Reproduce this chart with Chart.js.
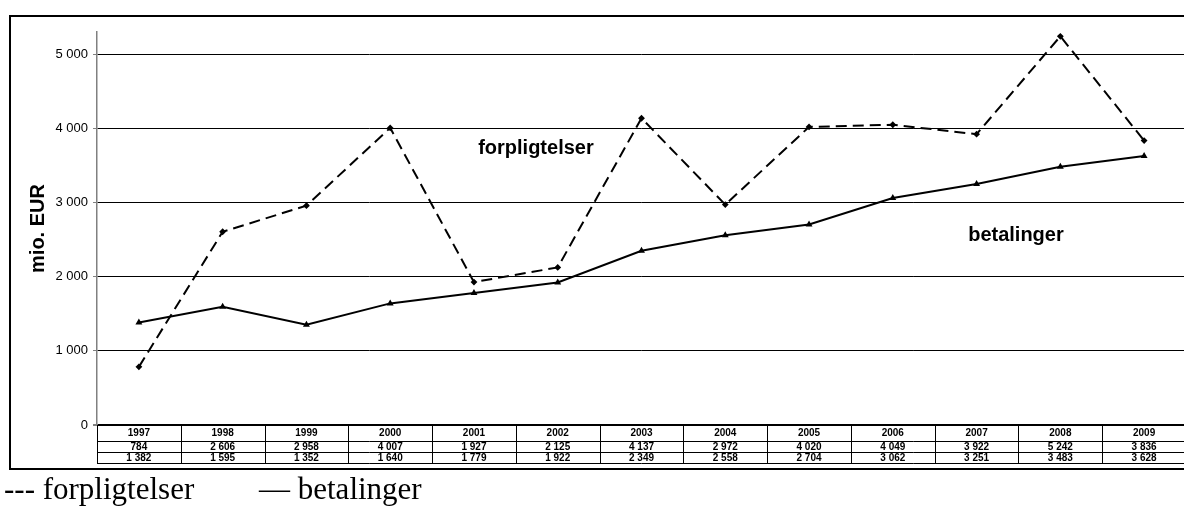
<!DOCTYPE html>
<html>
<head>
<meta charset="utf-8">
<script src="https://cdn.jsdelivr.net/npm/chart.js@4.4.1/dist/chart.umd.min.js"></script>
<style>
  html, body { margin: 0; padding: 0; background: #fff; overflow: hidden; width: 1184px; height: 510px; }
  #wrap { position: relative; width: 1184px; height: 510px; }
  canvas { position: absolute; left: 0; top: 0; }
  .leg { position: absolute; top: 471px; font-family: "Liberation Serif", "Times New Roman", serif; font-size: 31px; line-height: 36px; color: #000; white-space: nowrap; }
</style>
</head>
<body>
<div id="wrap">
  <canvas id="chart" width="1192" height="510"></canvas>
  <div class="leg" style="left:4px">--- forpligtelser</div>
  <div class="leg" style="left:259px">— betalinger</div>
</div>
<script>
const years = ["1997", "1998", "1999", "2000", "2001", "2002", "2003", "2004", "2005", "2006", "2007", "2008", "2009"];
const forpligtelser = [784, 2606, 2958, 4007, 1927, 2125, 4137, 2972, 4020, 4049, 3922, 5242, 3836];
const betalinger = [1382, 1595, 1352, 1640, 1779, 1922, 2349, 2558, 2704, 3062, 3251, 3483, 3628];
const yTicks = [0, 1000, 2000, 3000, 4000, 5000];

const fmt = (v) => String(v).replace(/\B(?=(\d{3})+(?!\d))/g, " ");

// table under the plot + outer frame + in-chart labels
const tablePlugin = {
  id: "tablePlugin",
  afterDraw(chart) {
    const c = chart.ctx;
    const x = chart.scales.x;
    const y = chart.scales.y;
    const area = chart.chartArea;
    const top = area.bottom;
    const step = x.getPixelForValue(1) - x.getPixelForValue(0);
    const rows = [top + 16, top + 27, top + 38];

    c.save();
    c.strokeStyle = "#000";
    c.lineWidth = 1;
    c.beginPath();
    for (const r of rows) {
      c.moveTo(area.left, r + 0.5);
      c.lineTo(area.right, r + 0.5);
    }
    for (let i = 0; i <= years.length; i++) {
      const px = Math.round(x.getPixelForValue(i) - step / 2) + 0.5;
      c.moveTo(px, top);
      c.lineTo(px, rows[2]);
    }
    c.stroke();

    c.fillStyle = "#000";
    c.font = "bold 10px 'Liberation Sans', Arial, sans-serif";
    c.textAlign = "center";
    c.textBaseline = "middle";
    years.forEach((yr, i) => {
      const px = x.getPixelForValue(i);
      c.fillText(yr, px, top + 8.5);
      c.fillText(fmt(forpligtelser[i]), px, top + 22);
      c.fillText(fmt(betalinger[i]), px, top + 33);
    });

    // labels inside the plot
    c.font = "bold 20px 'Liberation Sans', Arial, sans-serif";
    c.fillText("forpligtelser", x.getPixelForValue(4.74), y.getPixelForValue(3730));
    c.fillText("betalinger", x.getPixelForValue(10.47), y.getPixelForValue(2560));

    // outer frame
    c.lineWidth = 2;
    c.strokeRect(10, 16, 1200, 453);
    c.restore();
  }
};

new Chart(document.getElementById("chart"), {
  type: "line",
  data: {
    labels: years,
    datasets: [
      {
        label: "forpligtelser",
        data: forpligtelser,
        borderColor: "#000",
        backgroundColor: "#000",
        borderWidth: 2,
        borderDash: [11, 6],
        pointStyle: "rectRot",
        pointRadius: 2,
        tension: 0
      },
      {
        label: "betalinger",
        data: betalinger,
        borderColor: "#000",
        backgroundColor: "#000",
        borderWidth: 2,
        pointStyle: "triangle",
        pointRadius: 2,
        tension: 0
      }
    ]
  },
  options: {
    responsive: false,
    animation: false,
    layout: { padding: { left: 0, right: 4, top: 32, bottom: 85 } },
    plugins: {
      legend: { display: false },
      tooltip: { enabled: false }
    },
    scales: {
      x: {
        type: "category",
        offset: true,
        display: false
      },
      y: {
        min: 0,
        max: 5300,
        afterBuildTicks: (scale) => {
          scale.ticks = yTicks.map((v) => ({ value: v }));
        },
        afterFit: (scale) => {
          scale.width = 97;
        },
        border: { color: "#808080", width: 1.5 },
        grid: {
          color: "#000",
          lineWidth: (ctx) => (ctx.tick && ctx.tick.value === 0 ? 2 : 1),
          tickLength: 4,
          tickColor: "#808080"
        },
        ticks: {
          padding: 5,
          color: "#000",
          font: { family: "'Liberation Sans', Arial, sans-serif", size: 13 },
          callback: (v) => fmt(v)
        },
        title: {
          display: true,
          text: "mio. EUR",
          color: "#000",
          font: { family: "'Liberation Sans', Arial, sans-serif", size: 20, weight: "bold" },
          padding: { top: 26, bottom: 0 }
        }
      }
    }
  },
  plugins: [tablePlugin]
});
</script>
</body>
</html>
